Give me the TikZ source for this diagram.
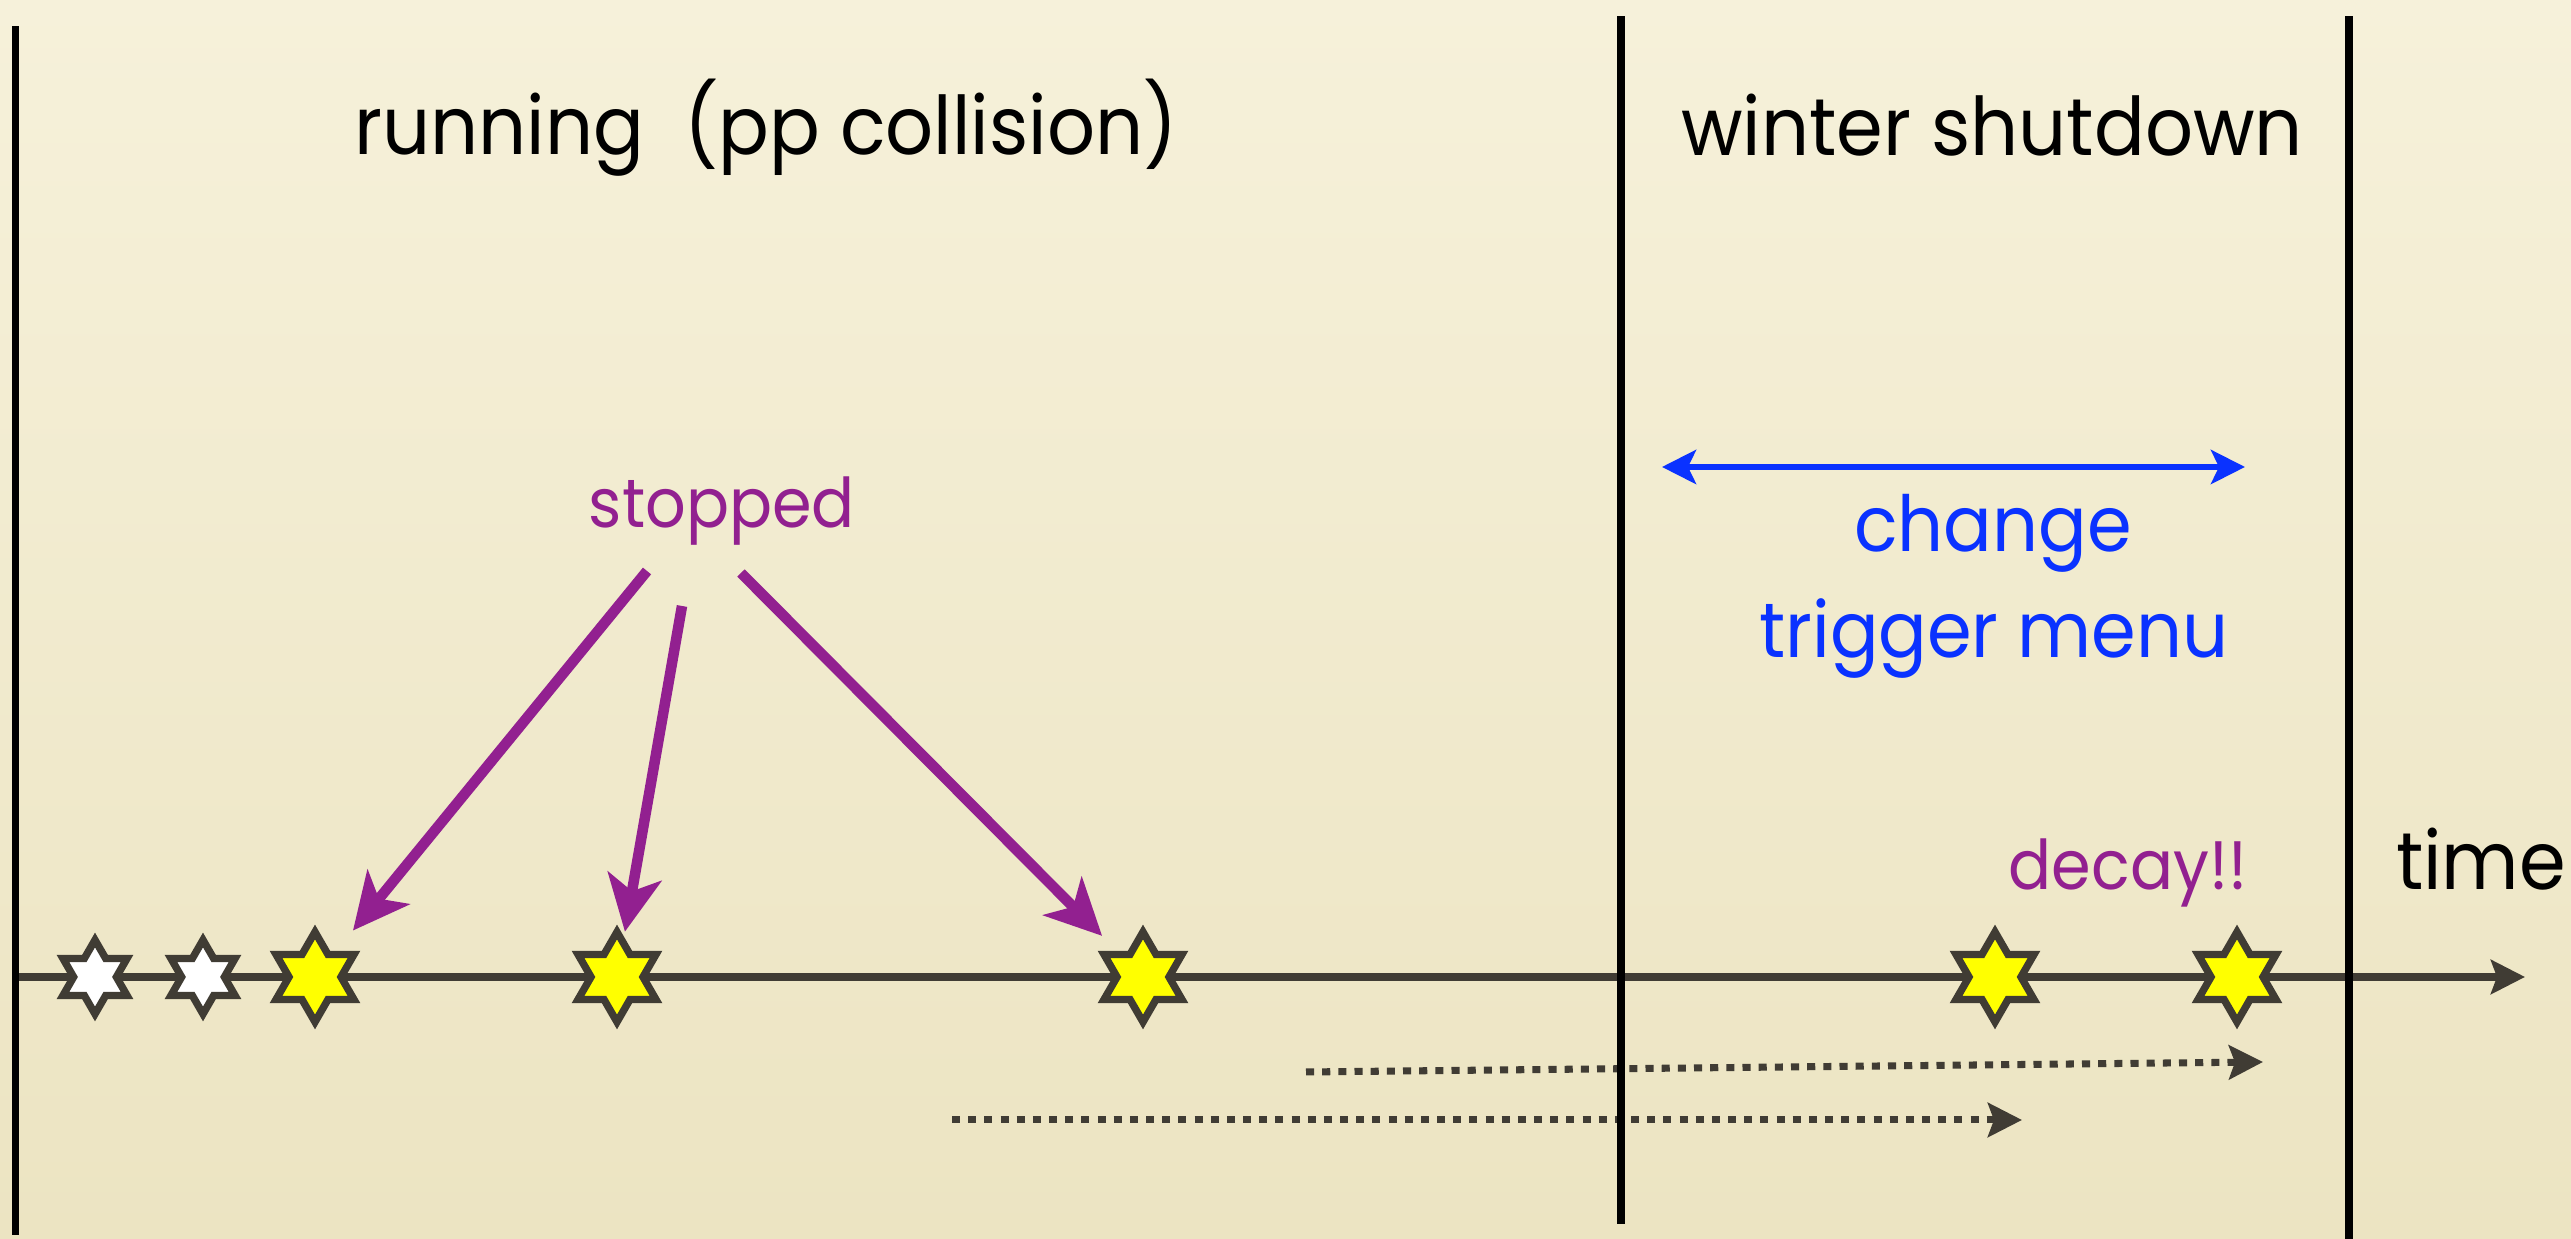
\documentclass[tikz,border=0pt]{standalone}
\usepackage{fontspec}
\setmainfont{Poppins}[FakeStretch=0.93]
\definecolor{bgtop}{RGB}{246, 241, 218}
\definecolor{bgbottom}{RGB}{236, 228, 194}
\definecolor{stoppurple}{RGB}{146, 32, 144}
\definecolor{menublue}{RGB}{10, 50, 255}
\definecolor{axisgray}{RGB}{64, 60, 52}
\definecolor{staryellow}{RGB}{255, 255, 0}
\usetikzlibrary{shapes.geometric, arrows.meta, positioning, calc}

\begin{document}
\begin{tikzpicture}[
  slidetext/.style={anchor=base, inner sep=0pt, font=\fontsize{23}{28}\selectfont},
  notetext/.style={slidetext, font=\fontsize{19.5}{24}\selectfont, stoppurple},
  menutext/.style={slidetext, font=\fontsize{22}{26}\selectfont, menublue},
  wall/.style={line width=2.1pt, black},
  event/.style={star, star points=6, star point ratio=1.732, draw=axisgray, line width=2.1pt, inner sep=0pt},
  caught/.style={event, fill=staryellow, minimum size=0.9cm},
  passed/.style={event, fill=white, minimum size=0.74cm},
  pointer/.style={stoppurple, line width=3pt, -{Stealth[length=0.56cm, width=0.54cm, inset=0.15cm]}},
  waiting/.style={axisgray, line width=2pt, dash pattern=on 2.3pt off 2.3pt, -{Stealth[length=0.34cm, width=0.34cm, inset=0.06cm]}}
]
  % Background
  \useasboundingbox (0, 0) rectangle (25.71, 12.39);
  \shade[top color=bgtop, bottom color=bgbottom] (0, 0) rectangle (25.71, 12.39);

  % Time axis
  \coordinate (t0) at (0.155, 2.62);
  \coordinate (t1) at (25.25, 2.62);
  \draw[axisgray, line width=2.2pt, -{Stealth[length=0.34cm, width=0.34cm, inset=0.06cm]}] (t0) -- (t1);

  % Lifetimes
  \coordinate (w0) at (13.06, 1.67);
  \coordinate (w1) at (22.63, 1.77);
  \coordinate (v0) at (9.52, 1.19);
  \coordinate (v1) at (20.22, 1.19);
  \draw[waiting] (w0) -- (w1);
  \draw[waiting] (v0) -- (v1);

  % Periods
  \draw[wall] (0.155, 0.04) -- (0.155, 12.13);
  \draw[wall] (16.21, 0.15) -- (16.21, 12.23);
  \draw[wall] (23.49, 0) -- (23.49, 12.23);

  % Events
  \node[passed] (white1) at (0.95, 2.62) {};
  \node[passed] (white2) at (2.03, 2.62) {};
  \node[caught] (stop1) at (3.15, 2.62) {};
  \node[caught] (stop2) at (6.17, 2.62) {};
  \node[caught] (stop3) at (11.43, 2.62) {};
  \node[caught] (decay1) at (19.95, 2.62) {};
  \node[caught] (decay2) at (22.37, 2.62) {};

  % Labels
  \node[slidetext] (running) at (7.66, 10.84) {running\ \ (pp collision)};
  \node[slidetext] (shutdown) at (19.92, 10.83) {winter shutdown};
  \node[notetext] (stopped) at (7.22, 7.11) {stopped};
  \node[menutext] (change) at (19.93, 6.87) {change};
  \node[menutext] (trigger) at (19.94, 5.81) {trigger menu};
  \node[notetext] (decay) at (21.28, 3.49) {decay!!};
  \node[slidetext] (time) at (24.81, 3.49) {time};

  % Stopped arrows
  \coordinate (a1) at (6.47, 6.68);
  \coordinate (a2) at (6.82, 6.33);
  \coordinate (a3) at (7.41, 6.66);
  \draw[pointer, shorten >=0.60cm] (a1) -- (stop1.center);
  \draw[pointer, shorten >=0.46cm] (a2) -- (stop2.center);
  \draw[pointer, shorten >=0.58cm] (a3) -- (stop3.center);

  % Trigger change
  \coordinate (m0) at (16.62, 7.72);
  \coordinate (m1) at (22.45, 7.72);
  \draw[menublue, line width=1.7pt, {Stealth[length=0.34cm, width=0.34cm, inset=0.08cm]}-{Stealth[length=0.34cm, width=0.34cm, inset=0.08cm]}] (m0) -- (m1);
\end{tikzpicture}
\end{document}
